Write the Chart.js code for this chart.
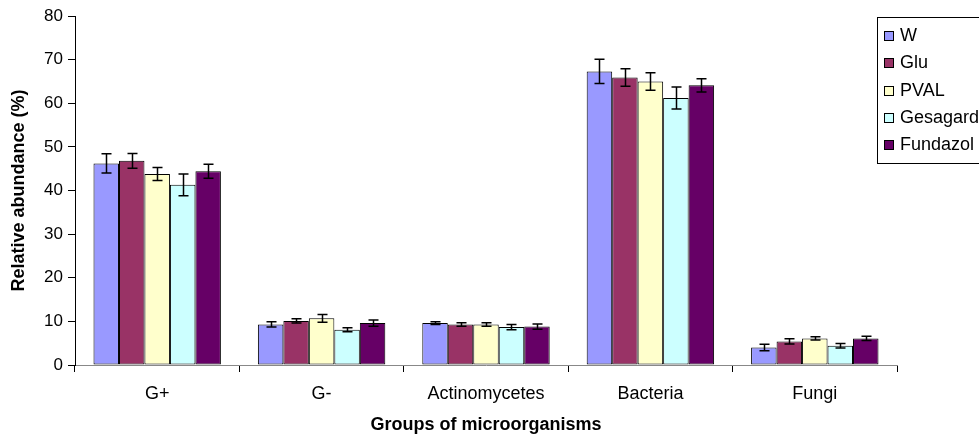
<!DOCTYPE html>
<html>
<head>
<meta charset="utf-8">
<script src="https://cdn.jsdelivr.net/npm/chart.js@4/dist/chart.umd.min.js"></script>
<style>
  html, body { margin: 0; padding: 0; background: #fff; }
  #wrap { width: 979px; height: 438px; position: relative; }
</style>
</head>
<body>
<div id="wrap"><canvas id="bar-chart"></canvas></div>
<script>
const groups = ['G+', 'G-', 'Actinomycetes', 'Bacteria', 'Fungi'];
const treatments = ['W', 'Glu', 'PVAL', 'Gesagard', 'Fundazol'];
const colors = ['#9999ff', '#993366', '#ffffcc', '#ccffff', '#660066'];

const wValues = [46.2, 9.3, 9.6, 67.3, 4.0];
const gluValues = [46.8, 10.1, 9.3, 65.9, 5.4];
const pvalValues = [43.8, 10.7, 9.3, 65.0, 6.1];
const gesagardValues = [41.3, 8.1, 8.7, 61.2, 4.4];
const fundazolValues = [44.4, 9.6, 8.8, 64.1, 6.1];

const wErrors = [2.2, 0.6, 0.3, 2.8, 0.75];
const gluErrors = [1.7, 0.5, 0.4, 2.0, 0.6];
const pvalErrors = [1.5, 0.9, 0.4, 2.0, 0.35];
const gesagardErrors = [2.5, 0.45, 0.6, 2.5, 0.5];
const fundazolErrors = [1.6, 0.7, 0.6, 1.5, 0.5];

const yTicks = [0, 10, 20, 30, 40, 50, 60, 70, 80];

const seriesValues = [wValues, gluValues, pvalValues, gesagardValues, fundazolValues];
const seriesErrors = [wErrors, gluErrors, pvalErrors, gesagardErrors, fundazolErrors];

const FONT = '"Liberation Sans", Arial, sans-serif';

// whiskers drawn on top of each bar
const errorBars = {
  id: 'errorBars',
  afterDatasetsDraw(chart) {
    const ctx = chart.ctx;
    const y = chart.scales.y;
    ctx.save();
    ctx.strokeStyle = '#000';
    ctx.lineWidth = 1.5;
    chart.data.datasets.forEach((ds, i) => {
      const meta = chart.getDatasetMeta(i);
      meta.data.forEach((bar, j) => {
        const v = ds.data[j];
        const e = ds.errors[j];
        const top = y.getPixelForValue(v + e);
        const bot = y.getPixelForValue(v - e);
        const x = Math.round(bar.x) + 0.5;
        ctx.beginPath();
        ctx.moveTo(x, top);
        ctx.lineTo(x, bot);
        ctx.moveTo(x - 5, top);
        ctx.lineTo(x + 5, top);
        ctx.moveTo(x - 5, bot);
        ctx.lineTo(x + 5, bot);
        ctx.stroke();
      });
    });
    ctx.restore();
  }
};

// boxed legend sitting over the top-right corner, like the original
const boxLegend = {
  id: 'boxLegend',
  afterDraw(chart) {
    const ctx = chart.ctx;
    const left = 877, top = 17, w = 120, h = 146;
    ctx.save();
    ctx.fillStyle = '#fff';
    ctx.fillRect(left, top, w, h);
    ctx.strokeStyle = '#000';
    ctx.lineWidth = 1;
    ctx.strokeRect(left + 0.5, top + 0.5, w, h);
    ctx.font = '18px ' + FONT;
    ctx.textBaseline = 'middle';
    chart.data.datasets.forEach((ds, i) => {
      const cy = Math.round(35 + i * 27.3);
      ctx.fillStyle = ds.backgroundColor;
      ctx.fillRect(884, cy - 4, 9, 9);
      ctx.strokeRect(884.5, cy - 3.5, 9, 9);
      ctx.fillStyle = '#000';
      ctx.fillText(ds.label, 900, cy + 1);
    });
    ctx.restore();
  }
};

new Chart(document.getElementById('bar-chart'), {
  type: 'bar',
  data: {
    labels: groups,
    datasets: treatments.map((name, i) => ({
      label: name,
      data: seriesValues[i],
      errors: seriesErrors[i],
      backgroundColor: colors[i],
      borderColor: '#000',
      borderWidth: 1,
      borderSkipped: false,
      barPercentage: 1,
      categoryPercentage: 0.775,
    })),
  },
  options: {
    responsive: true,
    maintainAspectRatio: false,
    animation: false,
    layout: { padding: { left: 0, right: 82, top: 16, bottom: 0 } },
    plugins: {
      legend: { display: false },
      tooltip: { enabled: false },
    },
    scales: {
      x: {
        afterFit(scale) { scale.height = 73; },
        grid: { display: true, drawOnChartArea: false, drawTicks: true, tickLength: 7, color: '#000' },
        border: { display: true, color: '#888', width: 1 },
        ticks: { color: '#000', font: { family: FONT, size: 18 }, padding: 11, maxRotation: 0 },
        title: {
          display: true,
          text: 'Groups of microorganisms',
          color: '#000',
          font: { family: FONT, size: 18, weight: 'bold' },
          padding: { top: 0, bottom: 2 },
        },
      },
      y: {
        min: 0,
        max: 80,
        afterFit(scale) { scale.width = 75; },
        afterBuildTicks(scale) { scale.ticks = yTicks.map(v => ({ value: v })); },
        grid: { display: true, drawOnChartArea: false, drawTicks: true, tickLength: 7, color: '#000' },
        border: { display: true, color: '#000', width: 1 },
        ticks: { color: '#000', font: { family: FONT, size: 17 }, padding: 5 },
        title: {
          display: true,
          text: 'Relative abundance (%)',
          color: '#000',
          font: { family: FONT, size: 18, weight: 'bold' },
          padding: { top: 8, bottom: 0 },
        },
      },
    },
  },
  plugins: [errorBars, boxLegend],
});
</script>
</body>
</html>
